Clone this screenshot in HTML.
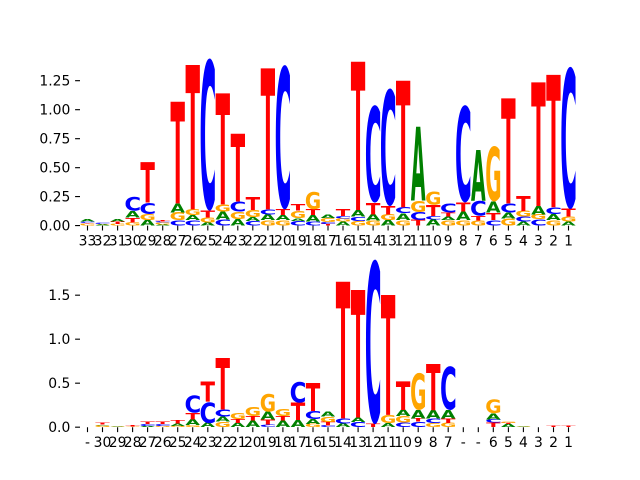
<!DOCTYPE html>
<html><head><meta charset="utf-8"><style>
html,body{margin:0;padding:0;background:#fff;}
svg{display:block;}
.lg svg{overflow:visible;}
.lg text{font-family:"DejaVu Sans","Liberation Sans",sans-serif;font-weight:bold;font-size:100px;}
.a{fill:#008000}.c{fill:#0000ff}.g{fill:#ffa500}.t{fill:#ff0000}
.tk{font-family:"DejaVu Sans","Liberation Sans",sans-serif;font-size:13.9px;fill:#000;}
</style></head><body>
<svg width="640" height="480" viewBox="0 0 640 480" xmlns="http://www.w3.org/2000/svg">
<rect width="640" height="480" fill="#fff"/>

<!-- TOP CHART -->
<svg class="lg" x="80" y="57.6" width="496" height="168" viewBox="0 -1.4494 33 1.4494" preserveAspectRatio="none">
<svg x="0.025" y="-0.015" width=".95" height=".015" viewBox="4.9 -74.3 71.6 75.7" preserveAspectRatio="none"><text class="g">G</text></svg>
<svg x="0.025" y="-0.022" width=".95" height=".007" viewBox="0.5 -72.9 67.2 72.9" preserveAspectRatio="none"><text class="t">T</text></svg>
<svg x="0.025" y="-0.035" width=".95" height=".013" viewBox="4.9 -74.3 62.5 75.7" preserveAspectRatio="none"><text class="c">C</text></svg>
<svg x="0.025" y="-0.054" width=".95" height=".019" viewBox="1 -72.9 75.5 72.9" preserveAspectRatio="none"><text class="a">A</text></svg>

<svg x="1.025" y="-0.008" width=".95" height=".008" viewBox="1 -72.9 75.5 72.9" preserveAspectRatio="none"><text class="a">A</text></svg>
<svg x="1.025" y="-0.015" width=".95" height=".007" viewBox="4.9 -74.3 71.6 75.7" preserveAspectRatio="none"><text class="g">G</text></svg>
<svg x="1.025" y="-0.025" width=".95" height=".01" viewBox="4.9 -74.3 62.5 75.7" preserveAspectRatio="none"><text class="c">C</text></svg>

<svg x="2.025" y="-0.015" width=".95" height=".015" viewBox="4.9 -74.3 71.6 75.7" preserveAspectRatio="none"><text class="g">G</text></svg>
<svg x="2.025" y="-0.035" width=".95" height=".02" viewBox="0.5 -72.9 67.2 72.9" preserveAspectRatio="none"><text class="t">T</text></svg>
<svg x="2.025" y="-0.054" width=".95" height=".019" viewBox="1 -72.9 75.5 72.9" preserveAspectRatio="none"><text class="a">A</text></svg>

<svg x="3.025" y="-0.028" width=".95" height=".028" viewBox="4.9 -74.3 71.6 75.7" preserveAspectRatio="none"><text class="g">G</text></svg>
<svg x="3.025" y="-0.068" width=".95" height=".04" viewBox="0.5 -72.9 67.2 72.9" preserveAspectRatio="none"><text class="t">T</text></svg>
<svg x="3.025" y="-0.126" width=".95" height=".058" viewBox="1 -72.9 75.5 72.9" preserveAspectRatio="none"><text class="a">A</text></svg>
<svg x="3.025" y="-0.25" width=".95" height=".124" viewBox="4.9 -74.3 62.5 75.7" preserveAspectRatio="none"><text class="c">C</text></svg>

<svg x="4.025" y="-0.048" width=".95" height=".048" viewBox="1 -72.9 75.5 72.9" preserveAspectRatio="none"><text class="a">A</text></svg>
<svg x="4.025" y="-0.097" width=".95" height=".049" viewBox="4.9 -74.3 71.6 75.7" preserveAspectRatio="none"><text class="g">G</text></svg>
<svg x="4.025" y="-0.198" width=".95" height=".101" viewBox="4.9 -74.3 62.5 75.7" preserveAspectRatio="none"><text class="c">C</text></svg>
<svg x="4.025" y="-0.546" width=".95" height=".348" viewBox="0.5 -72.9 67.2 72.9" preserveAspectRatio="none"><text class="t">T</text></svg>

<svg x="5.025" y="-0.01" width=".95" height=".01" viewBox="1 -72.9 75.5 72.9" preserveAspectRatio="none"><text class="a">A</text></svg>
<svg x="5.025" y="-0.025" width=".95" height=".015" viewBox="4.9 -74.3 71.6 75.7" preserveAspectRatio="none"><text class="g">G</text></svg>
<svg x="5.025" y="-0.035" width=".95" height=".01" viewBox="4.9 -74.3 62.5 75.7" preserveAspectRatio="none"><text class="c">C</text></svg>
<svg x="5.025" y="-0.048" width=".95" height=".013" viewBox="0.5 -72.9 67.2 72.9" preserveAspectRatio="none"><text class="t">T</text></svg>

<svg x="6.025" y="-0.048" width=".95" height=".048" viewBox="4.9 -74.3 62.5 75.7" preserveAspectRatio="none"><text class="c">C</text></svg>
<svg x="6.025" y="-0.115" width=".95" height=".067" viewBox="4.9 -74.3 71.6 75.7" preserveAspectRatio="none"><text class="g">G</text></svg>
<svg x="6.025" y="-0.192" width=".95" height=".077" viewBox="1 -72.9 75.5 72.9" preserveAspectRatio="none"><text class="a">A</text></svg>
<svg x="6.025" y="-1.069" width=".95" height=".877" viewBox="0.5 -72.9 67.2 72.9" preserveAspectRatio="none"><text class="t">T</text></svg>

<svg x="7.025" y="-0.048" width=".95" height=".048" viewBox="4.9 -74.3 62.5 75.7" preserveAspectRatio="none"><text class="c">C</text></svg>
<svg x="7.025" y="-0.091" width=".95" height=".043" viewBox="1 -72.9 75.5 72.9" preserveAspectRatio="none"><text class="a">A</text></svg>
<svg x="7.025" y="-0.14" width=".95" height=".049" viewBox="4.9 -74.3 71.6 75.7" preserveAspectRatio="none"><text class="g">G</text></svg>
<svg x="7.025" y="-1.386" width=".95" height="1.246" viewBox="0.5 -72.9 67.2 72.9" preserveAspectRatio="none"><text class="t">T</text></svg>

<svg x="8.025" y="-0.025" width=".95" height=".025" viewBox="1 -72.9 75.5 72.9" preserveAspectRatio="none"><text class="a">A</text></svg>
<svg x="8.025" y="-0.068" width=".95" height=".043" viewBox="4.9 -74.3 71.6 75.7" preserveAspectRatio="none"><text class="g">G</text></svg>
<svg x="8.025" y="-0.129" width=".95" height=".061" viewBox="0.5 -72.9 67.2 72.9" preserveAspectRatio="none"><text class="t">T</text></svg>
<svg x="8.025" y="-1.443" width=".95" height="1.314" viewBox="4.9 -74.3 62.5 75.7" preserveAspectRatio="none"><text class="c">C</text></svg>

<svg x="9.025" y="-0.054" width=".95" height=".054" viewBox="4.9 -74.3 62.5 75.7" preserveAspectRatio="none"><text class="c">C</text></svg>
<svg x="9.025" y="-0.12" width=".95" height=".066" viewBox="1 -72.9 75.5 72.9" preserveAspectRatio="none"><text class="a">A</text></svg>
<svg x="9.025" y="-0.183" width=".95" height=".063" viewBox="4.9 -74.3 71.6 75.7" preserveAspectRatio="none"><text class="g">G</text></svg>
<svg x="9.025" y="-1.141" width=".95" height=".958" viewBox="0.5 -72.9 67.2 72.9" preserveAspectRatio="none"><text class="t">T</text></svg>

<svg x="10.025" y="-0.057" width=".95" height=".057" viewBox="1 -72.9 75.5 72.9" preserveAspectRatio="none"><text class="a">A</text></svg>
<svg x="10.025" y="-0.12" width=".95" height=".063" viewBox="4.9 -74.3 71.6 75.7" preserveAspectRatio="none"><text class="g">G</text></svg>
<svg x="10.025" y="-0.206" width=".95" height=".086" viewBox="4.9 -74.3 62.5 75.7" preserveAspectRatio="none"><text class="c">C</text></svg>
<svg x="10.025" y="-0.79" width=".95" height=".584" viewBox="0.5 -72.9 67.2 72.9" preserveAspectRatio="none"><text class="t">T</text></svg>

<svg x="11.025" y="-0.04" width=".95" height=".04" viewBox="4.9 -74.3 62.5 75.7" preserveAspectRatio="none"><text class="c">C</text></svg>
<svg x="11.025" y="-0.071" width=".95" height=".031" viewBox="1 -72.9 75.5 72.9" preserveAspectRatio="none"><text class="a">A</text></svg>
<svg x="11.025" y="-0.135" width=".95" height=".064" viewBox="4.9 -74.3 71.6 75.7" preserveAspectRatio="none"><text class="g">G</text></svg>
<svg x="11.025" y="-0.244" width=".95" height=".109" viewBox="0.5 -72.9 67.2 72.9" preserveAspectRatio="none"><text class="t">T</text></svg>

<svg x="12.025" y="-0.048" width=".95" height=".048" viewBox="4.9 -74.3 71.6 75.7" preserveAspectRatio="none"><text class="g">G</text></svg>
<svg x="12.025" y="-0.097" width=".95" height=".049" viewBox="1 -72.9 75.5 72.9" preserveAspectRatio="none"><text class="a">A</text></svg>
<svg x="12.025" y="-0.14" width=".95" height=".043" viewBox="4.9 -74.3 62.5 75.7" preserveAspectRatio="none"><text class="c">C</text></svg>
<svg x="12.025" y="-1.357" width=".95" height="1.217" viewBox="0.5 -72.9 67.2 72.9" preserveAspectRatio="none"><text class="t">T</text></svg>

<svg x="13.025" y="-0.048" width=".95" height=".048" viewBox="4.9 -74.3 71.6 75.7" preserveAspectRatio="none"><text class="g">G</text></svg>
<svg x="13.025" y="-0.091" width=".95" height=".043" viewBox="1 -72.9 75.5 72.9" preserveAspectRatio="none"><text class="a">A</text></svg>
<svg x="13.025" y="-0.14" width=".95" height=".049" viewBox="0.5 -72.9 67.2 72.9" preserveAspectRatio="none"><text class="t">T</text></svg>
<svg x="13.025" y="-1.386" width=".95" height="1.246" viewBox="4.9 -74.3 62.5 75.7" preserveAspectRatio="none"><text class="c">C</text></svg>

<svg x="14.025" y="-0.04" width=".95" height=".04" viewBox="4.9 -74.3 62.5 75.7" preserveAspectRatio="none"><text class="c">C</text></svg>
<svg x="14.025" y="-0.063" width=".95" height=".023" viewBox="1 -72.9 75.5 72.9" preserveAspectRatio="none"><text class="a">A</text></svg>
<svg x="14.025" y="-0.129" width=".95" height=".066" viewBox="4.9 -74.3 71.6 75.7" preserveAspectRatio="none"><text class="g">G</text></svg>
<svg x="14.025" y="-0.186" width=".95" height=".057" viewBox="0.5 -72.9 67.2 72.9" preserveAspectRatio="none"><text class="t">T</text></svg>

<svg x="15.025" y="-0.034" width=".95" height=".034" viewBox="4.9 -74.3 62.5 75.7" preserveAspectRatio="none"><text class="c">C</text></svg>
<svg x="15.025" y="-0.091" width=".95" height=".057" viewBox="1 -72.9 75.5 72.9" preserveAspectRatio="none"><text class="a">A</text></svg>
<svg x="15.025" y="-0.14" width=".95" height=".049" viewBox="0.5 -72.9 67.2 72.9" preserveAspectRatio="none"><text class="t">T</text></svg>
<svg x="15.025" y="-0.29" width=".95" height=".15" viewBox="4.9 -74.3 71.6 75.7" preserveAspectRatio="none"><text class="g">G</text></svg>

<svg x="16.025" y="-0.015" width=".95" height=".015" viewBox="0.5 -72.9 67.2 72.9" preserveAspectRatio="none"><text class="t">T</text></svg>
<svg x="16.025" y="-0.03" width=".95" height=".015" viewBox="4.9 -74.3 62.5 75.7" preserveAspectRatio="none"><text class="c">C</text></svg>
<svg x="16.025" y="-0.065" width=".95" height=".035" viewBox="4.9 -74.3 71.6 75.7" preserveAspectRatio="none"><text class="g">G</text></svg>
<svg x="16.025" y="-0.095" width=".95" height=".03" viewBox="1 -72.9 75.5 72.9" preserveAspectRatio="none"><text class="a">A</text></svg>

<svg x="17.025" y="-0.034" width=".95" height=".034" viewBox="1 -72.9 75.5 72.9" preserveAspectRatio="none"><text class="a">A</text></svg>
<svg x="17.025" y="-0.063" width=".95" height=".029" viewBox="4.9 -74.3 71.6 75.7" preserveAspectRatio="none"><text class="g">G</text></svg>
<svg x="17.025" y="-0.083" width=".95" height=".02" viewBox="4.9 -74.3 62.5 75.7" preserveAspectRatio="none"><text class="c">C</text></svg>
<svg x="17.025" y="-0.143" width=".95" height=".06" viewBox="0.5 -72.9 67.2 72.9" preserveAspectRatio="none"><text class="t">T</text></svg>

<svg x="18.025" y="-0.04" width=".95" height=".04" viewBox="4.9 -74.3 71.6 75.7" preserveAspectRatio="none"><text class="g">G</text></svg>
<svg x="18.025" y="-0.077" width=".95" height=".037" viewBox="4.9 -74.3 62.5 75.7" preserveAspectRatio="none"><text class="c">C</text></svg>
<svg x="18.025" y="-0.135" width=".95" height=".058" viewBox="1 -72.9 75.5 72.9" preserveAspectRatio="none"><text class="a">A</text></svg>
<svg x="18.025" y="-1.414" width=".95" height="1.279" viewBox="0.5 -72.9 67.2 72.9" preserveAspectRatio="none"><text class="t">T</text></svg>

<svg x="19.025" y="-0.043" width=".95" height=".043" viewBox="4.9 -74.3 71.6 75.7" preserveAspectRatio="none"><text class="g">G</text></svg>
<svg x="19.025" y="-0.097" width=".95" height=".054" viewBox="1 -72.9 75.5 72.9" preserveAspectRatio="none"><text class="a">A</text></svg>
<svg x="19.025" y="-0.198" width=".95" height=".101" viewBox="0.5 -72.9 67.2 72.9" preserveAspectRatio="none"><text class="t">T</text></svg>
<svg x="19.025" y="-1.04" width=".95" height=".842" viewBox="4.9 -74.3 62.5 75.7" preserveAspectRatio="none"><text class="c">C</text></svg>

<svg x="20.025" y="-0.048" width=".95" height=".048" viewBox="1 -72.9 75.5 72.9" preserveAspectRatio="none"><text class="a">A</text></svg>
<svg x="20.025" y="-0.097" width=".95" height=".049" viewBox="4.9 -74.3 71.6 75.7" preserveAspectRatio="none"><text class="g">G</text></svg>
<svg x="20.025" y="-0.169" width=".95" height=".072" viewBox="0.5 -72.9 67.2 72.9" preserveAspectRatio="none"><text class="t">T</text></svg>
<svg x="20.025" y="-1.184" width=".95" height="1.015" viewBox="4.9 -74.3 62.5 75.7" preserveAspectRatio="none"><text class="c">C</text></svg>

<svg x="21.025" y="-0.048" width=".95" height=".048" viewBox="4.9 -74.3 71.6 75.7" preserveAspectRatio="none"><text class="g">G</text></svg>
<svg x="21.025" y="-0.106" width=".95" height=".058" viewBox="1 -72.9 75.5 72.9" preserveAspectRatio="none"><text class="a">A</text></svg>
<svg x="21.025" y="-0.158" width=".95" height=".052" viewBox="4.9 -74.3 62.5 75.7" preserveAspectRatio="none"><text class="c">C</text></svg>
<svg x="21.025" y="-1.25" width=".95" height="1.092" viewBox="0.5 -72.9 67.2 72.9" preserveAspectRatio="none"><text class="t">T</text></svg>

<svg x="22.025" y="-0.048" width=".95" height=".048" viewBox="0.5 -72.9 67.2 72.9" preserveAspectRatio="none"><text class="t">T</text></svg>
<svg x="22.025" y="-0.115" width=".95" height=".067" viewBox="4.9 -74.3 62.5 75.7" preserveAspectRatio="none"><text class="c">C</text></svg>
<svg x="22.025" y="-0.215" width=".95" height=".1" viewBox="4.9 -74.3 71.6 75.7" preserveAspectRatio="none"><text class="g">G</text></svg>
<svg x="22.025" y="-0.848" width=".95" height=".633" viewBox="1 -72.9 75.5 72.9" preserveAspectRatio="none"><text class="a">A</text></svg>

<svg x="23.025" y="-0.054" width=".95" height=".054" viewBox="1 -72.9 75.5 72.9" preserveAspectRatio="none"><text class="a">A</text></svg>
<svg x="23.025" y="-0.083" width=".95" height=".029" viewBox="4.9 -74.3 62.5 75.7" preserveAspectRatio="none"><text class="c">C</text></svg>
<svg x="23.025" y="-0.178" width=".95" height=".095" viewBox="0.5 -72.9 67.2 72.9" preserveAspectRatio="none"><text class="t">T</text></svg>
<svg x="23.025" y="-0.293" width=".95" height=".115" viewBox="4.9 -74.3 71.6 75.7" preserveAspectRatio="none"><text class="g">G</text></svg>

<svg x="24.025" y="-0.048" width=".95" height=".048" viewBox="4.9 -74.3 71.6 75.7" preserveAspectRatio="none"><text class="g">G</text></svg>
<svg x="24.025" y="-0.077" width=".95" height=".029" viewBox="1 -72.9 75.5 72.9" preserveAspectRatio="none"><text class="a">A</text></svg>
<svg x="24.025" y="-0.111" width=".95" height=".034" viewBox="0.5 -72.9 67.2 72.9" preserveAspectRatio="none"><text class="t">T</text></svg>
<svg x="24.025" y="-0.192" width=".95" height=".081" viewBox="4.9 -74.3 62.5 75.7" preserveAspectRatio="none"><text class="c">C</text></svg>

<svg x="25.025" y="-0.048" width=".95" height=".048" viewBox="4.9 -74.3 71.6 75.7" preserveAspectRatio="none"><text class="g">G</text></svg>
<svg x="25.025" y="-0.12" width=".95" height=".072" viewBox="1 -72.9 75.5 72.9" preserveAspectRatio="none"><text class="a">A</text></svg>
<svg x="25.025" y="-0.2" width=".95" height=".08" viewBox="0.5 -72.9 67.2 72.9" preserveAspectRatio="none"><text class="t">T</text></svg>
<svg x="25.025" y="-1.04" width=".95" height=".84" viewBox="4.9 -74.3 62.5 75.7" preserveAspectRatio="none"><text class="c">C</text></svg>

<svg x="26.025" y="-0.043" width=".95" height=".043" viewBox="4.9 -74.3 71.6 75.7" preserveAspectRatio="none"><text class="g">G</text></svg>
<svg x="26.025" y="-0.083" width=".95" height=".04" viewBox="0.5 -72.9 67.2 72.9" preserveAspectRatio="none"><text class="t">T</text></svg>
<svg x="26.025" y="-0.212" width=".95" height=".129" viewBox="4.9 -74.3 62.5 75.7" preserveAspectRatio="none"><text class="c">C</text></svg>
<svg x="26.025" y="-0.652" width=".95" height=".44" viewBox="1 -72.9 75.5 72.9" preserveAspectRatio="none"><text class="a">A</text></svg>

<svg x="27.025" y="-0.048" width=".95" height=".048" viewBox="4.9 -74.3 62.5 75.7" preserveAspectRatio="none"><text class="c">C</text></svg>
<svg x="27.025" y="-0.111" width=".95" height=".063" viewBox="0.5 -72.9 67.2 72.9" preserveAspectRatio="none"><text class="t">T</text></svg>
<svg x="27.025" y="-0.206" width=".95" height=".095" viewBox="1 -72.9 75.5 72.9" preserveAspectRatio="none"><text class="a">A</text></svg>
<svg x="27.025" y="-0.681" width=".95" height=".475" viewBox="4.9 -74.3 71.6 75.7" preserveAspectRatio="none"><text class="g">G</text></svg>

<svg x="28.025" y="-0.063" width=".95" height=".063" viewBox="4.9 -74.3 71.6 75.7" preserveAspectRatio="none"><text class="g">G</text></svg>
<svg x="28.025" y="-0.111" width=".95" height=".048" viewBox="1 -72.9 75.5 72.9" preserveAspectRatio="none"><text class="a">A</text></svg>
<svg x="28.025" y="-0.192" width=".95" height=".081" viewBox="4.9 -74.3 62.5 75.7" preserveAspectRatio="none"><text class="c">C</text></svg>
<svg x="28.025" y="-1.098" width=".95" height=".906" viewBox="0.5 -72.9 67.2 72.9" preserveAspectRatio="none"><text class="t">T</text></svg>

<svg x="29.025" y="-0.034" width=".95" height=".034" viewBox="1 -72.9 75.5 72.9" preserveAspectRatio="none"><text class="a">A</text></svg>
<svg x="29.025" y="-0.077" width=".95" height=".043" viewBox="4.9 -74.3 62.5 75.7" preserveAspectRatio="none"><text class="c">C</text></svg>
<svg x="29.025" y="-0.126" width=".95" height=".049" viewBox="4.9 -74.3 71.6 75.7" preserveAspectRatio="none"><text class="g">G</text></svg>
<svg x="29.025" y="-0.255" width=".95" height=".129" viewBox="0.5 -72.9 67.2 72.9" preserveAspectRatio="none"><text class="t">T</text></svg>

<svg x="30.025" y="-0.054" width=".95" height=".054" viewBox="4.9 -74.3 62.5 75.7" preserveAspectRatio="none"><text class="c">C</text></svg>
<svg x="30.025" y="-0.097" width=".95" height=".043" viewBox="4.9 -74.3 71.6 75.7" preserveAspectRatio="none"><text class="g">G</text></svg>
<svg x="30.025" y="-0.169" width=".95" height=".072" viewBox="1 -72.9 75.5 72.9" preserveAspectRatio="none"><text class="a">A</text></svg>
<svg x="30.025" y="-1.236" width=".95" height="1.067" viewBox="0.5 -72.9 67.2 72.9" preserveAspectRatio="none"><text class="t">T</text></svg>

<svg x="31.025" y="-0.048" width=".95" height=".048" viewBox="4.9 -74.3 71.6 75.7" preserveAspectRatio="none"><text class="g">G</text></svg>
<svg x="31.025" y="-0.1" width=".95" height=".052" viewBox="1 -72.9 75.5 72.9" preserveAspectRatio="none"><text class="a">A</text></svg>
<svg x="31.025" y="-0.158" width=".95" height=".058" viewBox="4.9 -74.3 62.5 75.7" preserveAspectRatio="none"><text class="c">C</text></svg>
<svg x="31.025" y="-1.3" width=".95" height="1.142" viewBox="0.5 -72.9 67.2 72.9" preserveAspectRatio="none"><text class="t">T</text></svg>

<svg x="32.025" y="-0.034" width=".95" height=".034" viewBox="1 -72.9 75.5 72.9" preserveAspectRatio="none"><text class="a">A</text></svg>
<svg x="32.025" y="-0.077" width=".95" height=".043" viewBox="4.9 -74.3 71.6 75.7" preserveAspectRatio="none"><text class="g">G</text></svg>
<svg x="32.025" y="-0.143" width=".95" height=".066" viewBox="0.5 -72.9 67.2 72.9" preserveAspectRatio="none"><text class="t">T</text></svg>
<svg x="32.025" y="-1.371" width=".95" height="1.228" viewBox="4.9 -74.3 62.5 75.7" preserveAspectRatio="none"><text class="c">C</text></svg>
</svg>

<!-- BOTTOM CHART -->
<svg class="lg" x="80" y="259.2" width="496" height="168" viewBox="0 -1.909 33 1.909" preserveAspectRatio="none">
<svg x="1.025" y="-0.02" width=".95" height=".02" viewBox="4.9 -74.3 71.6 75.7" preserveAspectRatio="none"><text class="g">G</text></svg>
<svg x="1.025" y="-0.03" width=".95" height=".01" viewBox="1 -72.9 75.5 72.9" preserveAspectRatio="none"><text class="a">A</text></svg>
<svg x="1.025" y="-0.05" width=".95" height=".02" viewBox="0.5 -72.9 67.2 72.9" preserveAspectRatio="none"><text class="t">T</text></svg>

<svg x="2.025" y="-0.007" width=".95" height=".007" viewBox="4.9 -74.3 71.6 75.7" preserveAspectRatio="none"><text class="g">G</text></svg>
<svg x="2.025" y="-0.014" width=".95" height=".007" viewBox="1 -72.9 75.5 72.9" preserveAspectRatio="none"><text class="a">A</text></svg>

<svg x="3.025" y="-0.01" width=".95" height=".01" viewBox="4.9 -74.3 71.6 75.7" preserveAspectRatio="none"><text class="g">G</text></svg>
<svg x="3.025" y="-0.025" width=".95" height=".015" viewBox="0.5 -72.9 67.2 72.9" preserveAspectRatio="none"><text class="t">T</text></svg>

<svg x="4.025" y="-0.015" width=".95" height=".015" viewBox="1 -72.9 75.5 72.9" preserveAspectRatio="none"><text class="a">A</text></svg>
<svg x="4.025" y="-0.035" width=".95" height=".02" viewBox="4.9 -74.3 62.5 75.7" preserveAspectRatio="none"><text class="c">C</text></svg>
<svg x="4.025" y="-0.06" width=".95" height=".025" viewBox="0.5 -72.9 67.2 72.9" preserveAspectRatio="none"><text class="t">T</text></svg>

<svg x="5.025" y="-0.015" width=".95" height=".015" viewBox="4.9 -74.3 71.6 75.7" preserveAspectRatio="none"><text class="g">G</text></svg>
<svg x="5.025" y="-0.035" width=".95" height=".02" viewBox="4.9 -74.3 62.5 75.7" preserveAspectRatio="none"><text class="c">C</text></svg>
<svg x="5.025" y="-0.06" width=".95" height=".025" viewBox="0.5 -72.9 67.2 72.9" preserveAspectRatio="none"><text class="t">T</text></svg>

<svg x="6.025" y="-0.015" width=".95" height=".015" viewBox="4.9 -74.3 71.6 75.7" preserveAspectRatio="none"><text class="g">G</text></svg>
<svg x="6.025" y="-0.04" width=".95" height=".025" viewBox="1 -72.9 75.5 72.9" preserveAspectRatio="none"><text class="a">A</text></svg>
<svg x="6.025" y="-0.074" width=".95" height=".034" viewBox="0.5 -72.9 67.2 72.9" preserveAspectRatio="none"><text class="t">T</text></svg>

<svg x="7.025" y="-0.025" width=".95" height=".025" viewBox="4.9 -74.3 71.6 75.7" preserveAspectRatio="none"><text class="g">G</text></svg>
<svg x="7.025" y="-0.09" width=".95" height=".065" viewBox="1 -72.9 75.5 72.9" preserveAspectRatio="none"><text class="a">A</text></svg>
<svg x="7.025" y="-0.165" width=".95" height=".075" viewBox="0.5 -72.9 67.2 72.9" preserveAspectRatio="none"><text class="t">T</text></svg>
<svg x="7.025" y="-0.366" width=".95" height=".201" viewBox="4.9 -74.3 62.5 75.7" preserveAspectRatio="none"><text class="c">C</text></svg>

<svg x="8.025" y="-0.05" width=".95" height=".05" viewBox="1 -72.9 75.5 72.9" preserveAspectRatio="none"><text class="a">A</text></svg>
<svg x="8.025" y="-0.29" width=".95" height=".24" viewBox="4.9 -74.3 62.5 75.7" preserveAspectRatio="none"><text class="c">C</text></svg>
<svg x="8.025" y="-0.52" width=".95" height=".23" viewBox="0.5 -72.9 67.2 72.9" preserveAspectRatio="none"><text class="t">T</text></svg>

<svg x="9.025" y="-0.063" width=".95" height=".063" viewBox="4.9 -74.3 71.6 75.7" preserveAspectRatio="none"><text class="g">G</text></svg>
<svg x="9.025" y="-0.12" width=".95" height=".057" viewBox="1 -72.9 75.5 72.9" preserveAspectRatio="none"><text class="a">A</text></svg>
<svg x="9.025" y="-0.2" width=".95" height=".08" viewBox="4.9 -74.3 62.5 75.7" preserveAspectRatio="none"><text class="c">C</text></svg>
<svg x="9.025" y="-0.785" width=".95" height=".585" viewBox="0.5 -72.9 67.2 72.9" preserveAspectRatio="none"><text class="t">T</text></svg>

<svg x="10.025" y="-0.05" width=".95" height=".05" viewBox="1 -72.9 75.5 72.9" preserveAspectRatio="none"><text class="a">A</text></svg>
<svg x="10.025" y="-0.09" width=".95" height=".04" viewBox="0.5 -72.9 67.2 72.9" preserveAspectRatio="none"><text class="t">T</text></svg>
<svg x="10.025" y="-0.157" width=".95" height=".067" viewBox="4.9 -74.3 71.6 75.7" preserveAspectRatio="none"><text class="g">G</text></svg>

<svg x="11.025" y="-0.075" width=".95" height=".075" viewBox="1 -72.9 75.5 72.9" preserveAspectRatio="none"><text class="a">A</text></svg>
<svg x="11.025" y="-0.127" width=".95" height=".052" viewBox="0.5 -72.9 67.2 72.9" preserveAspectRatio="none"><text class="t">T</text></svg>
<svg x="11.025" y="-0.233" width=".95" height=".106" viewBox="4.9 -74.3 71.6 75.7" preserveAspectRatio="none"><text class="g">G</text></svg>

<svg x="12.025" y="-0.03" width=".95" height=".03" viewBox="4.9 -74.3 62.5 75.7" preserveAspectRatio="none"><text class="c">C</text></svg>
<svg x="12.025" y="-0.09" width=".95" height=".06" viewBox="0.5 -72.9 67.2 72.9" preserveAspectRatio="none"><text class="t">T</text></svg>
<svg x="12.025" y="-0.176" width=".95" height=".086" viewBox="1 -72.9 75.5 72.9" preserveAspectRatio="none"><text class="a">A</text></svg>
<svg x="12.025" y="-0.38" width=".95" height=".204" viewBox="4.9 -74.3 71.6 75.7" preserveAspectRatio="none"><text class="g">G</text></svg>

<svg x="13.025" y="-0.075" width=".95" height=".075" viewBox="1 -72.9 75.5 72.9" preserveAspectRatio="none"><text class="a">A</text></svg>
<svg x="13.025" y="-0.127" width=".95" height=".052" viewBox="0.5 -72.9 67.2 72.9" preserveAspectRatio="none"><text class="t">T</text></svg>
<svg x="13.025" y="-0.214" width=".95" height=".087" viewBox="4.9 -74.3 71.6 75.7" preserveAspectRatio="none"><text class="g">G</text></svg>

<svg x="14.025" y="-0.08" width=".95" height=".08" viewBox="1 -72.9 75.5 72.9" preserveAspectRatio="none"><text class="a">A</text></svg>
<svg x="14.025" y="-0.28" width=".95" height=".2" viewBox="0.5 -72.9 67.2 72.9" preserveAspectRatio="none"><text class="t">T</text></svg>
<svg x="14.025" y="-0.52" width=".95" height=".24" viewBox="4.9 -74.3 62.5 75.7" preserveAspectRatio="none"><text class="c">C</text></svg>

<svg x="15.025" y="-0.035" width=".95" height=".035" viewBox="4.9 -74.3 71.6 75.7" preserveAspectRatio="none"><text class="g">G</text></svg>
<svg x="15.025" y="-0.09" width=".95" height=".055" viewBox="1 -72.9 75.5 72.9" preserveAspectRatio="none"><text class="a">A</text></svg>
<svg x="15.025" y="-0.183" width=".95" height=".093" viewBox="4.9 -74.3 62.5 75.7" preserveAspectRatio="none"><text class="c">C</text></svg>
<svg x="15.025" y="-0.5" width=".95" height=".317" viewBox="0.5 -72.9 67.2 72.9" preserveAspectRatio="none"><text class="t">T</text></svg>

<svg x="16.025" y="-0.02" width=".95" height=".02" viewBox="4.9 -74.3 62.5 75.7" preserveAspectRatio="none"><text class="c">C</text></svg>
<svg x="16.025" y="-0.06" width=".95" height=".04" viewBox="0.5 -72.9 67.2 72.9" preserveAspectRatio="none"><text class="t">T</text></svg>
<svg x="16.025" y="-0.12" width=".95" height=".06" viewBox="4.9 -74.3 71.6 75.7" preserveAspectRatio="none"><text class="g">G</text></svg>
<svg x="16.025" y="-0.18" width=".95" height=".06" viewBox="1 -72.9 75.5 72.9" preserveAspectRatio="none"><text class="a">A</text></svg>

<svg x="17.025" y="-0.04" width=".95" height=".04" viewBox="1 -72.9 75.5 72.9" preserveAspectRatio="none"><text class="a">A</text></svg>
<svg x="17.025" y="-0.1" width=".95" height=".06" viewBox="4.9 -74.3 62.5 75.7" preserveAspectRatio="none"><text class="c">C</text></svg>
<svg x="17.025" y="-1.653" width=".95" height="1.553" viewBox="0.5 -72.9 67.2 72.9" preserveAspectRatio="none"><text class="t">T</text></svg>

<svg x="18.025" y="-0.06" width=".95" height=".06" viewBox="4.9 -74.3 62.5 75.7" preserveAspectRatio="none"><text class="c">C</text></svg>
<svg x="18.025" y="-0.11" width=".95" height=".05" viewBox="1 -72.9 75.5 72.9" preserveAspectRatio="none"><text class="a">A</text></svg>
<svg x="18.025" y="-1.559" width=".95" height="1.449" viewBox="0.5 -72.9 67.2 72.9" preserveAspectRatio="none"><text class="t">T</text></svg>

<svg x="19.025" y="-0.035" width=".95" height=".035" viewBox="0.5 -72.9 67.2 72.9" preserveAspectRatio="none"><text class="t">T</text></svg>
<svg x="19.025" y="-1.906" width=".95" height="1.871" viewBox="4.9 -74.3 62.5 75.7" preserveAspectRatio="none"><text class="c">C</text></svg>

<svg x="20.025" y="-0.045" width=".95" height=".045" viewBox="1 -72.9 75.5 72.9" preserveAspectRatio="none"><text class="a">A</text></svg>
<svg x="20.025" y="-0.14" width=".95" height=".095" viewBox="4.9 -74.3 71.6 75.7" preserveAspectRatio="none"><text class="g">G</text></svg>
<svg x="20.025" y="-1.502" width=".95" height="1.362" viewBox="0.5 -72.9 67.2 72.9" preserveAspectRatio="none"><text class="t">T</text></svg>

<svg x="21.025" y="-0.05" width=".95" height=".05" viewBox="4.9 -74.3 62.5 75.7" preserveAspectRatio="none"><text class="c">C</text></svg>
<svg x="21.025" y="-0.125" width=".95" height=".075" viewBox="4.9 -74.3 71.6 75.7" preserveAspectRatio="none"><text class="g">G</text></svg>
<svg x="21.025" y="-0.195" width=".95" height=".07" viewBox="1 -72.9 75.5 72.9" preserveAspectRatio="none"><text class="a">A</text></svg>
<svg x="21.025" y="-0.517" width=".95" height=".322" viewBox="0.5 -72.9 67.2 72.9" preserveAspectRatio="none"><text class="t">T</text></svg>

<svg x="22.025" y="-0.063" width=".95" height=".063" viewBox="4.9 -74.3 62.5 75.7" preserveAspectRatio="none"><text class="c">C</text></svg>
<svg x="22.025" y="-0.1" width=".95" height=".037" viewBox="0.5 -72.9 67.2 72.9" preserveAspectRatio="none"><text class="t">T</text></svg>
<svg x="22.025" y="-0.195" width=".95" height=".095" viewBox="1 -72.9 75.5 72.9" preserveAspectRatio="none"><text class="a">A</text></svg>
<svg x="22.025" y="-0.62" width=".95" height=".425" viewBox="4.9 -74.3 71.6 75.7" preserveAspectRatio="none"><text class="g">G</text></svg>

<svg x="23.025" y="-0.045" width=".95" height=".045" viewBox="4.9 -74.3 71.6 75.7" preserveAspectRatio="none"><text class="g">G</text></svg>
<svg x="23.025" y="-0.1" width=".95" height=".055" viewBox="4.9 -74.3 62.5 75.7" preserveAspectRatio="none"><text class="c">C</text></svg>
<svg x="23.025" y="-0.195" width=".95" height=".095" viewBox="1 -72.9 75.5 72.9" preserveAspectRatio="none"><text class="a">A</text></svg>
<svg x="23.025" y="-0.718" width=".95" height=".523" viewBox="0.5 -72.9 67.2 72.9" preserveAspectRatio="none"><text class="t">T</text></svg>

<svg x="24.025" y="-0.05" width=".95" height=".05" viewBox="4.9 -74.3 71.6 75.7" preserveAspectRatio="none"><text class="g">G</text></svg>
<svg x="24.025" y="-0.1" width=".95" height=".05" viewBox="0.5 -72.9 67.2 72.9" preserveAspectRatio="none"><text class="t">T</text></svg>
<svg x="24.025" y="-0.195" width=".95" height=".095" viewBox="1 -72.9 75.5 72.9" preserveAspectRatio="none"><text class="a">A</text></svg>
<svg x="24.025" y="-0.695" width=".95" height=".5" viewBox="4.9 -74.3 62.5 75.7" preserveAspectRatio="none"><text class="c">C</text></svg>

<svg x="27.025" y="-0.05" width=".95" height=".05" viewBox="0.5 -72.9 67.2 72.9" preserveAspectRatio="none"><text class="t">T</text></svg>
<svg x="27.025" y="-0.09" width=".95" height=".04" viewBox="4.9 -74.3 62.5 75.7" preserveAspectRatio="none"><text class="c">C</text></svg>
<svg x="27.025" y="-0.157" width=".95" height=".067" viewBox="1 -72.9 75.5 72.9" preserveAspectRatio="none"><text class="a">A</text></svg>
<svg x="27.025" y="-0.316" width=".95" height=".159" viewBox="4.9 -74.3 71.6 75.7" preserveAspectRatio="none"><text class="g">G</text></svg>

<svg x="28.025" y="-0.035" width=".95" height=".035" viewBox="1 -72.9 75.5 72.9" preserveAspectRatio="none"><text class="a">A</text></svg>
<svg x="28.025" y="-0.05" width=".95" height=".015" viewBox="0.5 -72.9 67.2 72.9" preserveAspectRatio="none"><text class="t">T</text></svg>
<svg x="28.025" y="-0.065" width=".95" height=".015" viewBox="4.9 -74.3 71.6 75.7" preserveAspectRatio="none"><text class="g">G</text></svg>

<svg x="29.025" y="-0.01" width=".95" height=".01" viewBox="1 -72.9 75.5 72.9" preserveAspectRatio="none"><text class="a">A</text></svg>
<svg x="29.025" y="-0.02" width=".95" height=".01" viewBox="4.9 -74.3 71.6 75.7" preserveAspectRatio="none"><text class="g">G</text></svg>

<svg x="31.025" y="-0.015" width=".95" height=".015" viewBox="0.5 -72.9 67.2 72.9" preserveAspectRatio="none"><text class="t">T</text></svg>
<svg x="32.025" y="-0.015" width=".95" height=".015" viewBox="0.5 -72.9 67.2 72.9" preserveAspectRatio="none"><text class="t">T</text></svg>
</svg>

<!-- TICK MARKS -->
<g stroke="#000" stroke-width="1.1" fill="none">
<path d="M75.1 225.6H80M75.1 196.6H80M75.1 167.7H80M75.1 138.7H80M75.1 109.7H80M75.1 80.7H80"/>
<path d="M75.1 427.2H80M75.1 383.2H80M75.1 339.2H80M75.1 295.2H80"/>
<path d="M87.5 225.6v4.9M102.5 225.6v4.9M117.6 225.6v4.9M132.6 225.6v4.9M147.6 225.6v4.9M162.7 225.6v4.9M177.7 225.6v4.9M192.7 225.6v4.9M207.8 225.6v4.9M222.8 225.6v4.9M237.8 225.6v4.9M252.8 225.6v4.9M267.9 225.6v4.9M282.9 225.6v4.9M297.9 225.6v4.9M313 225.6v4.9M328 225.6v4.9M343 225.6v4.9M358.1 225.6v4.9M373.1 225.6v4.9M388.1 225.6v4.9M403.2 225.6v4.9M418.2 225.6v4.9M433.2 225.6v4.9M448.2 225.6v4.9M463.3 225.6v4.9M478.3 225.6v4.9M493.3 225.6v4.9M508.4 225.6v4.9M523.4 225.6v4.9M538.4 225.6v4.9M553.5 225.6v4.9M568.5 225.6v4.9"/>
<path d="M87.5 427.2v4.9M102.5 427.2v4.9M117.6 427.2v4.9M132.6 427.2v4.9M147.6 427.2v4.9M162.7 427.2v4.9M177.7 427.2v4.9M192.7 427.2v4.9M207.8 427.2v4.9M222.8 427.2v4.9M237.8 427.2v4.9M252.8 427.2v4.9M267.9 427.2v4.9M282.9 427.2v4.9M297.9 427.2v4.9M313 427.2v4.9M328 427.2v4.9M343 427.2v4.9M358.1 427.2v4.9M373.1 427.2v4.9M388.1 427.2v4.9M403.2 427.2v4.9M418.2 427.2v4.9M433.2 427.2v4.9M448.2 427.2v4.9M463.3 427.2v4.9M478.3 427.2v4.9M493.3 427.2v4.9M508.4 427.2v4.9M523.4 427.2v4.9M538.4 427.2v4.9M553.5 427.2v4.9M568.5 427.2v4.9"/>
</g>

<!-- Y TICK LABELS -->
<g class="tk" text-anchor="end">
<text x="70.3" y="230.6">0.00</text>
<text x="70.3" y="201.6">0.25</text>
<text x="70.3" y="172.7">0.50</text>
<text x="70.3" y="143.7">0.75</text>
<text x="70.3" y="114.7">1.00</text>
<text x="70.3" y="85.7">1.25</text>
<text x="70.3" y="432.2">0.0</text>
<text x="70.3" y="388.2">0.5</text>
<text x="70.3" y="344.2">1.0</text>
<text x="70.3" y="300.2">1.5</text>
</g>

<!-- X TICK LABELS TOP -->
<g class="tk" text-anchor="middle">
<text x="87.5" y="245.3">33</text><text x="102.5" y="245.3">32</text><text x="117.6" y="245.3">31</text><text x="132.6" y="245.3">30</text><text x="147.6" y="245.3">29</text><text x="162.7" y="245.3">28</text><text x="177.7" y="245.3">27</text><text x="192.7" y="245.3">26</text><text x="207.8" y="245.3">25</text><text x="222.8" y="245.3">24</text><text x="237.8" y="245.3">23</text><text x="252.8" y="245.3">22</text><text x="267.9" y="245.3">21</text><text x="282.9" y="245.3">20</text><text x="297.9" y="245.3">19</text><text x="313" y="245.3">18</text><text x="328" y="245.3">17</text><text x="343" y="245.3">16</text><text x="358.1" y="245.3">15</text><text x="373.1" y="245.3">14</text><text x="388.1" y="245.3">13</text><text x="403.2" y="245.3">12</text><text x="418.2" y="245.3">11</text><text x="433.2" y="245.3">10</text><text x="448.2" y="245.3">9</text><text x="463.3" y="245.3">8</text><text x="478.3" y="245.3">7</text><text x="493.3" y="245.3">6</text><text x="508.4" y="245.3">5</text><text x="523.4" y="245.3">4</text><text x="538.4" y="245.3">3</text><text x="553.5" y="245.3">2</text><text x="568.5" y="245.3">1</text>
</g>

<!-- X TICK LABELS BOTTOM -->
<g class="tk" text-anchor="middle">
<text x="87.5" y="447.1">-</text><text x="102.5" y="447.1">30</text><text x="117.6" y="447.1">29</text><text x="132.6" y="447.1">28</text><text x="147.6" y="447.1">27</text><text x="162.7" y="447.1">26</text><text x="177.7" y="447.1">25</text><text x="192.7" y="447.1">24</text><text x="207.8" y="447.1">23</text><text x="222.8" y="447.1">22</text><text x="237.8" y="447.1">21</text><text x="252.8" y="447.1">20</text><text x="267.9" y="447.1">19</text><text x="282.9" y="447.1">18</text><text x="297.9" y="447.1">17</text><text x="313" y="447.1">16</text><text x="328" y="447.1">15</text><text x="343" y="447.1">14</text><text x="358.1" y="447.1">13</text><text x="373.1" y="447.1">12</text><text x="388.1" y="447.1">11</text><text x="403.2" y="447.1">10</text><text x="418.2" y="447.1">9</text><text x="433.2" y="447.1">8</text><text x="448.2" y="447.1">7</text><text x="463.3" y="447.1">-</text><text x="478.3" y="447.1">-</text><text x="493.3" y="447.1">6</text><text x="508.4" y="447.1">5</text><text x="523.4" y="447.1">4</text><text x="538.4" y="447.1">3</text><text x="553.5" y="447.1">2</text><text x="568.5" y="447.1">1</text>
</g>
</svg>
</body></html>
